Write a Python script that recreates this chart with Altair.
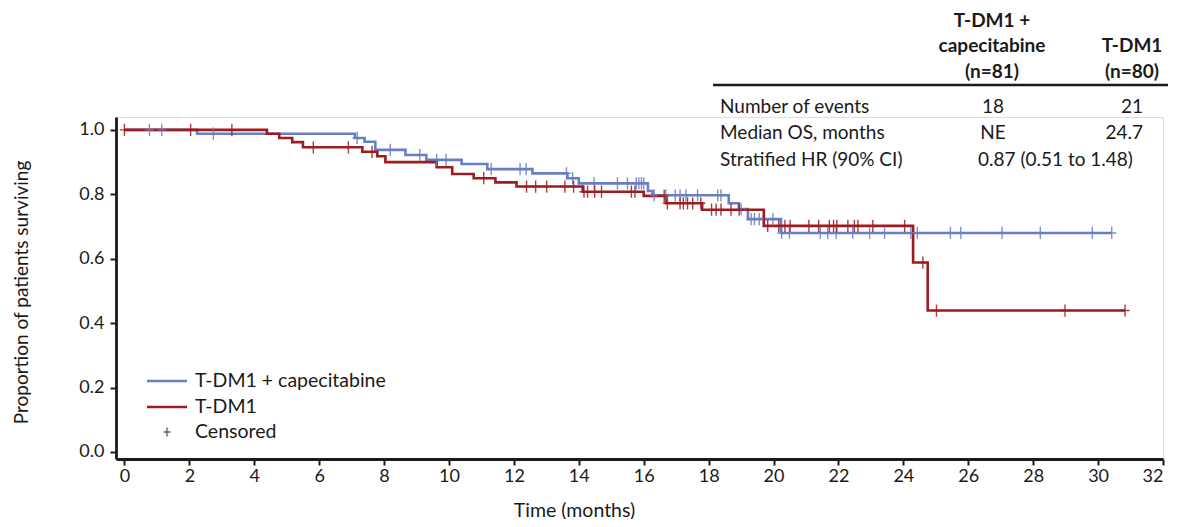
import altair as alt
import pandas as pd

# ---- Kaplan-Meier curves ----
cape_times = [0, 2.24, 7.10, 7.40, 7.73, 8.66, 9.30, 10.39, 11.18, 12.57, 13.65, 14.00,
              16.13, 16.27, 18.62, 18.93, 19.21, 20.23]
cape_surv = [1.0, 0.988, 0.975, 0.963, 0.938, 0.922, 0.907, 0.894, 0.878, 0.865, 0.850, 0.834,
             0.810, 0.797, 0.772, 0.754, 0.723, 0.680]
cape_end = 30.42
cape_censor = [0.77, 1.15, 2.74, 7.17, 8.19, 9.10, 9.62, 9.91, 11.30, 12.19, 12.38, 13.62,
               13.81, 14.47, 15.19, 15.50, 15.77, 15.85, 15.93, 16.00, 16.32, 16.68, 16.97,
               17.12, 17.30, 17.66, 18.28, 18.38, 19.00, 19.31, 19.41, 19.56, 19.98, 20.25,
               20.49, 21.44, 21.67, 21.93, 22.44, 22.96, 23.42, 24.23, 24.43, 25.45, 25.77,
               27.04, 28.22, 29.82, 30.42]

tdm1_times = [0, 4.39, 4.77, 5.17, 5.50, 7.33, 7.79, 8.04, 9.62, 10.10, 10.76, 11.43, 12.08,
              14.12, 16.00, 16.68, 17.80, 19.70, 24.30, 24.75]
tdm1_surv = [1.0, 0.988, 0.975, 0.962, 0.946, 0.932, 0.918, 0.900, 0.884, 0.863, 0.850, 0.837,
             0.824, 0.808, 0.795, 0.772, 0.752, 0.702, 0.588, 0.439]
tdm1_end = 30.83
tdm1_censor = [0.0, 2.04, 3.31, 5.82, 6.90, 7.63, 11.07, 12.39, 12.67, 13.01, 13.57, 13.84,
               14.16, 14.27, 14.49, 14.70, 15.62, 15.73, 16.63, 16.73, 17.12, 17.22, 17.35,
               17.51, 17.76, 18.09, 18.23, 18.38, 18.69, 18.94, 19.82, 20.16, 20.35, 20.51,
               21.09, 21.39, 21.72, 21.85, 21.95, 22.29, 22.49, 22.60, 23.06, 24.04, 24.60,
               25.02, 28.98, 30.83]

x_ticks = list(range(0, 33, 2))
y_ticks = [0.0, 0.2, 0.4, 0.6, 0.8, 1.0]

series_names = ["T-DM1 + capecitabine", "T-DM1"]
censor_label = "Censored"

# ---- summary table ----
header_left = ["T-DM1 +", "capecitabine", "(n=81)"]
header_right = ["T-DM1", "(n=80)"]
row_labels = ["Number of events", "Median OS, months", "Stratified HR (90% CI)"]
col_cape = ["18", "NE"]
col_tdm1 = ["21", "24.7"]
hr_text = "0.87 (0.51 to 1.48)"

BLUE = "#6a7ec4"
RED = "#9c1c20"
INK = "#1a1a1a"
FONT = "Lato"
TFS = 19      # table font size
LFS = 19.5    # legend font size
AFS = 18      # axis label font size
ATS = 19.5    # axis title font size

W, H = 1047, 342


def step_df(times, surv, end):
    t = list(times) + [end]
    s = list(surv) + [surv[-1]]
    return pd.DataFrame({"time": t, "surv": s, "order": list(range(len(t)))})


def censor_df(times, surv, cens):
    ys = []
    for c in cens:
        lvl = surv[0]
        for t, s in zip(times, surv):
            if t <= c:
                lvl = s
        ys.append(lvl)
    return pd.DataFrame({"time": cens, "surv": ys})


xs = alt.Scale(domain=[-0.26, 32], nice=False, zero=False)
ys = alt.Scale(domain=[-0.022, 1.04], nice=False, zero=False)

x_enc = alt.X("time:Q", scale=xs, axis=alt.Axis(
    values=x_ticks, title="Time (months)", grid=False, labelFont=FONT, labelFontSize=AFS,
    labelColor=INK, tickSize=6, tickWidth=2, tickColor=INK, domainWidth=2.8, domainColor=INK,
    labelPadding=2, titleFont=FONT, titleFontSize=ATS, titleFontWeight="normal", titleColor=INK,
    titleX=458, titleY=51, titleBaseline="middle", titleAlign="center"))
y_enc = alt.Y("surv:Q", scale=ys, axis=alt.Axis(
    values=y_ticks, format=".1f", title="Proportion of patients surviving", grid=False,
    labelFont=FONT, labelFontSize=AFS, labelColor=INK, tickSize=6, tickWidth=2, tickColor=INK,
    domainWidth=2.8, domainColor=INK, labelPadding=6, titleFont=FONT, titleFontSize=19,
    titleFontWeight="normal", titleColor=INK, titleX=-95, titleY=175, titleBaseline="middle",
    titleAlign="center"))

PLUS = "M-0.75,0H0.75M0,-1V1"

layers = []
for times, surv, end, col in [
    (cape_times, cape_surv, cape_end, BLUE),
    (tdm1_times, tdm1_surv, tdm1_end, RED),
]:
    layers.append(alt.Chart(step_df(times, surv, end)).mark_line(
        interpolate="step-after", strokeWidth=2.6, color=col).encode(
        x=x_enc, y=y_enc, order="order:Q"))
for times, surv, cens, col in [
    (cape_times, cape_surv, cape_censor, BLUE),
    (tdm1_times, tdm1_surv, tdm1_censor, RED),
]:
    layers.append(alt.Chart(censor_df(times, surv, cens)).mark_point(
        shape=PLUS, size=150, filled=False, strokeWidth=1.4, color=col, opacity=0.85).encode(
        x="time:Q", y="surv:Q"))

# ---- legend (drawn manually) ----
one = pd.DataFrame({"k": [0]})
leg_y = [264, 290, 315]
for yy, col in zip(leg_y[:2], [BLUE, RED]):
    layers.append(alt.Chart(one).mark_rule(color=col, strokeWidth=2.6).encode(
        x=alt.value(31), x2=alt.value(71), y=alt.value(yy)))
layers.append(alt.Chart(one).mark_point(shape=PLUS, size=80, filled=False, strokeWidth=1.3,
                                         color=INK).encode(x=alt.value(51), y=alt.value(315)))
leg_df = pd.DataFrame({"t": series_names + [censor_label], "y": leg_y})
layers.append(alt.Chart(leg_df).mark_text(align="left", baseline="middle", font=FONT,
                                          fontSize=LFS, color=INK).encode(
    x=alt.value(79), y=alt.Y("y:Q", scale=None), text="t:N"))

# ---- table ----
hl = pd.DataFrame({"t": header_left, "y": [-96, -71, -45]})
layers.append(alt.Chart(hl).mark_text(align="center", baseline="middle", font=FONT, fontSize=TFS,
                                      fontWeight="bold", color=INK).encode(
    x=alt.value(876), y=alt.Y("y:Q", scale=None), text="t:N"))
hr_ = pd.DataFrame({"t": header_right, "y": [-71, -45]})
layers.append(alt.Chart(hr_).mark_text(align="center", baseline="middle", font=FONT, fontSize=TFS,
                                       fontWeight="bold", color=INK).encode(
    x=alt.value(1016), y=alt.Y("y:Q", scale=None), text="t:N"))
layers.append(alt.Chart(one).mark_rule(color=INK, strokeWidth=2.5).encode(
    x=alt.value(597), x2=alt.value(1052), y=alt.value(-32)))
rl = pd.DataFrame({"t": row_labels, "y": [-10, 16, 43]})
layers.append(alt.Chart(rl).mark_text(align="left", baseline="middle", font=FONT, fontSize=TFS,
                                      color=INK).encode(
    x=alt.value(604), y=alt.Y("y:Q", scale=None), text="t:N"))
c1 = pd.DataFrame({"t": col_cape, "y": [-10, 16]})
layers.append(alt.Chart(c1).mark_text(align="center", baseline="middle", font=FONT, fontSize=TFS,
                                      color=INK).encode(
    x=alt.value(877), y=alt.Y("y:Q", scale=None), text="t:N"))
c2 = pd.DataFrame({"t": col_tdm1, "y": [-10, 16]})
layers.append(alt.Chart(c2).mark_text(align="right", baseline="middle", font=FONT, fontSize=TFS,
                                      color=INK).encode(
    x=alt.value(1027), y=alt.Y("y:Q", scale=None), text="t:N"))
layers.append(alt.Chart(pd.DataFrame({"t": [hr_text]})).mark_text(
    align="left", baseline="middle", font=FONT, fontSize=TFS, color=INK).encode(
    x=alt.value(862), y=alt.value(43), text="t:N"))

chart = alt.layer(*layers).properties(
    width=W, height=H,
    autosize=alt.AutoSizeParams(type="none"),
    padding={"left": 108, "top": 109, "right": 16, "bottom": 60},
).configure_view(stroke=None).configure(background="white")

chart.save("out.html", embed_options={"renderer": "svg", "actions": False})
